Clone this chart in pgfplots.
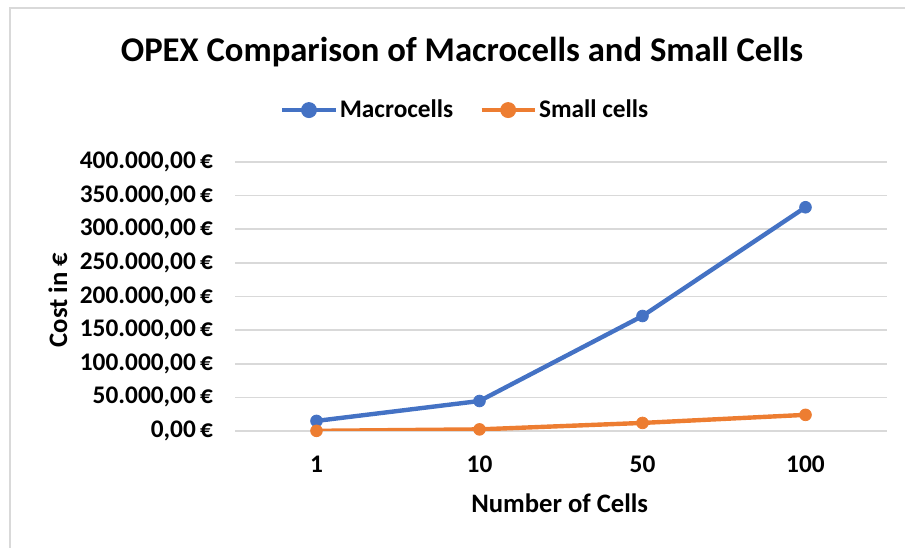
\documentclass[border=0pt]{standalone}
\usepackage{fontspec}
\setmainfont{Carlito}
\usepackage{pgfplots}
\pgfplotsset{compat=1.18}
\definecolor{mblue}{HTML}{4472C4}
\definecolor{morange}{HTML}{ED7D31}
\definecolor{gridgray}{HTML}{D9D9D9}
\begin{document}
\begin{tikzpicture}[x=1pt,y=1pt]
\useasboundingbox (0,0) rectangle (678.75,411);
\draw[gridgray, line width=1.5pt] (7.5,0) -- (7.5,405) -- (678.75,405);
\node[font=\bfseries\fontsize{26}{30}\selectfont] at (346.5,372) {OPEX Comparison of Macrocells and Small Cells};
\begin{axis}[
  at={(176.25pt,87.75pt)}, anchor=south west,
  scale only axis, width=489pt, height=201.75pt,
  xmin=-0.5, xmax=3.5, ymin=0, ymax=400000,
  xtick={0,1,2,3}, xticklabels={1,10,50,100},
  ytick={0,50000,100000,150000,200000,250000,300000,350000,400000},
  scaled y ticks=false,
  yticklabel={\pgfmathprintnumber[fixed, fixed zerofill, precision=2, use comma, 1000 sep={.}, assume math mode=true]{\tick}\,€},
  ticklabel style={font=\bfseries\fontsize{19}{22}\selectfont},
  major tick length=0pt,
  axis line style={draw=none},
  ymajorgrids, grid style={gridgray, line width=1.2pt},
  xlabel={Number of Cells}, ylabel={Cost in €},
  label style={font=\bfseries\fontsize{20}{24}\selectfont},
  xlabel style={at={(axis description cs:0.498,-0.268)}, anchor=center},
  ylabel style={at={(axis description cs:-0.2715,0.487)}, anchor=center},
  xticklabel style={yshift=-15pt},
  yticklabel style={xshift=-13pt},
  legend columns=2,
  legend style={at={(axis description cs:0.353,1.193)}, anchor=center, draw=none, fill=none,
    font=\bfseries\fontsize{19}{22}\selectfont, nodes={inner xsep=1.5pt},
    /tikz/every even column/.append style={column sep=18pt}},
  legend image code/.code={\draw[#1, line width=3.3pt] (0pt,0pt) -- (40pt,0pt); \fill[#1] (20pt,0pt) circle (4.3pt);},
]
\addplot[mblue, line width=3.3pt, mark=*, mark size=4.4pt, mark options={fill=mblue, draw=mblue, line width=0.6pt}] coordinates {(0,15000) (1,44600) (2,171000) (3,332700)};
\addlegendentry{Macrocells}
\addplot[morange, line width=3.3pt, mark=*, mark size=4.4pt, mark options={fill=morange, draw=morange, line width=0.6pt}] coordinates {(0,240) (1,2400) (2,12000) (3,24000)};
\addlegendentry{Small cells}
\end{axis}
\end{tikzpicture}
\end{document}
